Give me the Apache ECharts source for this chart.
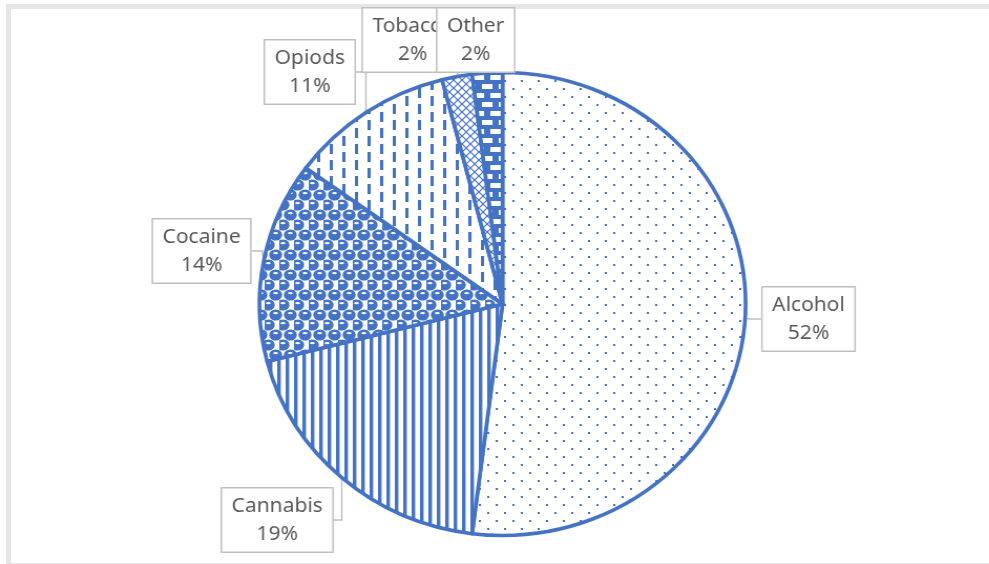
<!DOCTYPE html>
<html>
<head>
<meta charset="utf-8">
<title>Substance share</title>
<script src="https://cdn.jsdelivr.net/npm/echarts@6/dist/echarts.min.js"></script>
<style>
  html, body { margin: 0; padding: 0; background: #fff; }
  #wrap { position: relative; width: 989px; height: 564px; overflow: hidden; background: #fff; }
  #frame {
    position: absolute; left: 6px; top: 4px; width: 990px; height: 560px;
    border-top: 5px solid #E6E6E6; border-left: 5px solid #E6E6E6; border-bottom: 1px solid #E6E6E6;
    box-sizing: border-box;
  }
  /* the chart is drawn slightly wider than tall */
  #chart { position: absolute; left: 0; top: 0; width: 942px; height: 564px; transform: scaleX(1.05); transform-origin: 0 0; }
</style>
</head>
<body>
<div id="wrap"><div id="frame"></div><div id="chart"></div></div>
<script>
// Data
const categories = ['Alcohol', 'Cannabis', 'Cocaine', 'Opiods', 'Tobacco', 'Other'];
const shares = [52, 19, 14, 11, 2, 2];

// Callout box centres (chart pixels)
const labelSpots = [[770, 319], [264, 520], [192, 251], [295, 72], [393, 40], [453, 40]];

const BLUE = '#4472C4';

function tile(w, h, draw) {
  const c = document.createElement('canvas');
  c.width = w; c.height = h;
  const g = c.getContext('2d');
  g.fillStyle = '#fff';
  g.fillRect(0, 0, w, h);
  g.fillStyle = BLUE;
  g.strokeStyle = BLUE;
  draw(g, w, h);
  return { image: c, repeat: 'repeat' };
}

// Fill patterns, one per slice
const patterns = [
  // small dots
  tile(16, 16, g => { g.fillRect(0, 0, 2, 2); g.fillRect(8, 8, 2, 2); }),
  // vertical lines
  tile(8, 8, g => { g.fillRect(0, 0, 3.4, 8); }),
  // spheres
  tile(14, 20, (g, w, h) => {
    const blobs = [[3.5, 5], [10.5, 15], [-3.5, 15], [17.5, 15], [3.5, 25], [3.5, -5], [10.5, -5], [-3.5, -5], [17.5, -5]];
    blobs.forEach(([x, y]) => { g.beginPath(); g.ellipse(x, y, 6.2, 5.6, 0, 0, Math.PI * 2); g.fill(); });
    g.fillStyle = '#fff';
    [[3.5, 3.2], [10.5, 13.2]].forEach(([x, y]) => { g.beginPath(); g.ellipse(x, y, 2.3, 1.1, 0, 0, Math.PI * 2); g.fill(); });
  }),
  // dashed vertical lines
  tile(24, 16, g => { g.fillRect(2, 0, 3, 10); g.fillRect(14, 8, 3, 8); g.fillRect(14, 0, 3, 2); }),
  // diagonal cross-hatch
  tile(8, 8, g => {
    g.lineWidth = 1.2;
    g.beginPath(); g.moveTo(0, 0); g.lineTo(8, 8); g.moveTo(8, 0); g.lineTo(0, 8); g.stroke();
  }),
  // bricks
  tile(16, 18, g => {
    g.fillRect(0, 0, 16, 18);
    g.fillStyle = '#fff';
    g.fillRect(3, 3, 10, 5);
    g.fillRect(11, 12, 10, 5);
    g.fillRect(-5, 12, 10, 5);
  })
];

const chart = echarts.init(document.getElementById('chart'), null, { renderer: 'canvas' });

chart.setOption({
  animation: false,
  backgroundColor: 'transparent',
  series: [{
    type: 'pie',
    center: [478.6, 304],
    radius: [0, 231.5],
    startAngle: 90,
    clockwise: true,
    percentPrecision: 0,
    emphasis: { disabled: true },
    itemStyle: { borderColor: BLUE, borderWidth: 3.6 },
    label: {
      show: true,
      position: 'outside',
      formatter: '{b}\n{d}%',
      fontFamily: 'Noto Sans',
      fontSize: 20,
      lineHeight: 28,
      color: '#595959',
      backgroundColor: '#fff',
      borderColor: '#BFBFBF',
      borderWidth: 1.5,
      padding: [4, 9, 3, 9],
      align: 'center'
    },
    labelLine: {
      show: true,
      length: 10,
      length2: 10,
      lineStyle: { color: '#BFBFBF', width: 1.5 }
    },
    labelLayout: p => ({
      x: labelSpots[p.dataIndex][0],
      y: labelSpots[p.dataIndex][1],
      align: 'center',
      verticalAlign: 'middle'
    }),
    data: categories.map((name, i) => ({
      name,
      value: shares[i],
      itemStyle: { color: patterns[i] }
    }))
  }]
});
</script>
</body>
</html>
